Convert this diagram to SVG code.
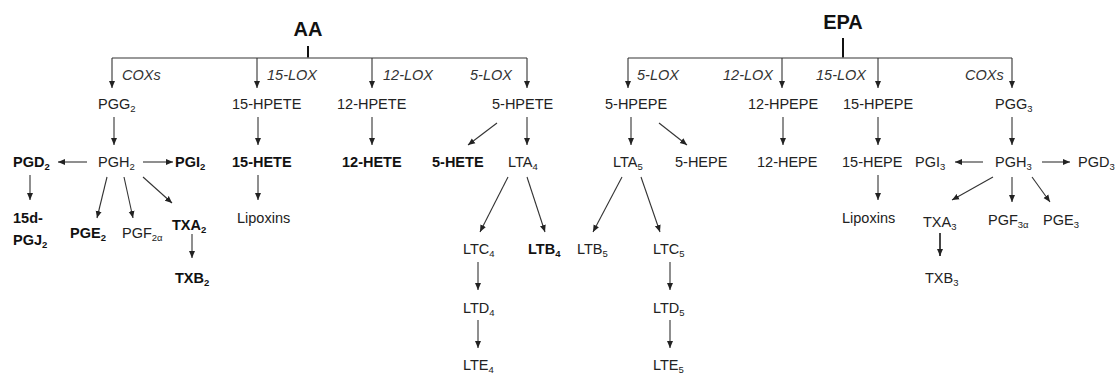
<svg xmlns="http://www.w3.org/2000/svg" width="1117" height="375" viewBox="0 0 1117 375">
<style>
text{font-family:"Liberation Sans",Arial,sans-serif;font-size:14.5px;fill:#222}
.b{font-weight:bold;fill:#111}
.t{font-size:20px;font-weight:bold;fill:#111;text-anchor:middle}
.e{font-style:italic;fill:#333}
.s{font-size:9.5px}
.c line,.c path{stroke:#333;stroke-width:1.1;fill:none;marker-end:url(#ah)}
.c .bar{stroke:#777;stroke-width:1.4;marker-end:none}
.c .stem{stroke:#111;stroke-width:2;marker-end:none}
.c .thick{stroke-width:1.8}
</style>
<defs>
<marker id="ah" markerUnits="userSpaceOnUse" markerWidth="8" markerHeight="7" refX="7" refY="3.5" orient="auto">
<path d="M0,0.5 L7,3.5 L0,6.5 z" fill="#222"/>
</marker>
</defs>
<rect width="1117" height="375" fill="#fff"/>
<g class="c" id="connectors">
<line class="stem" x1="308" y1="46" x2="308" y2="58"/>
<path class="bar" d="M112,58 H527"/>
<line x1="112" y1="58" x2="112" y2="88"/>
<line x1="257" y1="58" x2="257" y2="88"/>
<line x1="372" y1="58" x2="372" y2="88"/>
<line x1="527" y1="58" x2="527" y2="88"/>
<line x1="114" y1="117" x2="114" y2="145"/>
<line x1="258" y1="117" x2="258" y2="145"/>
<line x1="258" y1="175" x2="258" y2="200"/>
<line x1="372" y1="117" x2="372" y2="145"/>
<line x1="527" y1="117" x2="527" y2="145"/>
<line x1="497" y1="123" x2="468" y2="145"/>
<line x1="87" y1="162" x2="58" y2="162"/>
<line x1="143" y1="162" x2="173" y2="162"/>
<line x1="30" y1="175" x2="30" y2="200"/>
<line x1="107" y1="177" x2="97" y2="218"/>
<line x1="124" y1="177" x2="133" y2="218"/>
<line x1="143" y1="177" x2="172" y2="203"/>
<line x1="192" y1="234" x2="192" y2="258"/>
<line x1="508" y1="177" x2="480" y2="232"/>
<line x1="527" y1="177" x2="545" y2="232"/>
<line x1="478" y1="262" x2="478" y2="290"/>
<line x1="478" y1="320" x2="478" y2="348"/>
<line class="stem" x1="843" y1="38" x2="843" y2="58"/>
<path class="bar" d="M628,58 H1012"/>
<line x1="628" y1="58" x2="628" y2="88"/>
<line x1="782" y1="58" x2="782" y2="88"/>
<line x1="878" y1="58" x2="878" y2="88"/>
<line x1="1012" y1="58" x2="1012" y2="88"/>
<line x1="631" y1="117" x2="631" y2="145"/>
<line x1="659" y1="123" x2="687" y2="145"/>
<line x1="783" y1="117" x2="783" y2="145"/>
<line x1="878" y1="117" x2="878" y2="145"/>
<line x1="878" y1="175" x2="878" y2="200"/>
<line x1="1012" y1="117" x2="1012" y2="145"/>
<line x1="622" y1="177" x2="593" y2="232"/>
<line x1="641" y1="177" x2="660" y2="232"/>
<line x1="670" y1="262" x2="670" y2="290"/>
<line x1="670" y1="320" x2="670" y2="348"/>
<line x1="983" y1="162" x2="955" y2="162"/>
<line x1="1042" y1="162" x2="1070" y2="162"/>
<line x1="993" y1="177" x2="952" y2="200"/>
<line x1="1012" y1="177" x2="1012" y2="202"/>
<line x1="1032" y1="177" x2="1050" y2="202"/>
<line class="thick" x1="940" y1="233" x2="940" y2="256"/>
</g>
<g id="n-AA"><text class="t" x="308" y="36">AA</text></g>
<g id="l-aa-cox"><text class="e" x="122" y="80">COXs</text></g>
<g id="l-aa-15lox"><text class="e" x="267" y="80">15-LOX</text></g>
<g id="l-aa-12lox"><text class="e" x="383" y="80">12-LOX</text></g>
<g id="l-aa-5lox"><text class="e" x="470" y="80">5-LOX</text></g>
<g id="n-PGG2"><text x="98" y="109">PGG<tspan class="s" dy="3">2</tspan></text></g>
<g id="n-15HPETE"><text x="232" y="109">15-HPETE</text></g>
<g id="n-12HPETE"><text x="337" y="109">12-HPETE</text></g>
<g id="n-5HPETE"><text x="492" y="109">5-HPETE</text></g>
<g id="n-PGD2"><text class="b" x="13" y="167">PGD<tspan class="s" dy="3">2</tspan></text></g>
<g id="n-PGH2"><text x="98" y="167">PGH<tspan class="s" dy="3">2</tspan></text></g>
<g id="n-PGI2"><text class="b" x="175" y="167">PGI<tspan class="s" dy="3">2</tspan></text></g>
<g id="n-15HETE"><text class="b" x="232" y="167">15-HETE</text></g>
<g id="n-12HETE"><text class="b" x="342" y="167">12-HETE</text></g>
<g id="n-5HETE"><text class="b" x="432" y="167">5-HETE</text></g>
<g id="n-LTA4"><text x="508" y="167">LTA<tspan class="s" dy="3">4</tspan></text></g>
<g id="n-15dPGJ2"><text class="b" x="13" y="223">15d-</text><text class="b" x="13" y="245">PGJ<tspan class="s" dy="3">2</tspan></text></g>
<g id="n-PGE2"><text class="b" x="70" y="238">PGE<tspan class="s" dy="3">2</tspan></text></g>
<g id="n-PGF2a"><text x="122" y="238">PGF<tspan class="s" dy="3">2α</tspan></text></g>
<g id="n-TXA2"><text class="b" x="172" y="230">TXA<tspan class="s" dy="3">2</tspan></text></g>
<g id="n-TXB2"><text class="b" x="175" y="283">TXB<tspan class="s" dy="3">2</tspan></text></g>
<g id="n-Lipoxins-AA"><text x="237" y="223">Lipoxins</text></g>
<g id="n-LTC4"><text x="463" y="254">LTC<tspan class="s" dy="3">4</tspan></text></g>
<g id="n-LTB4"><text class="b" x="528" y="254">LTB<tspan class="s" dy="3">4</tspan></text></g>
<g id="n-LTD4"><text x="463" y="313">LTD<tspan class="s" dy="3">4</tspan></text></g>
<g id="n-LTE4"><text x="463" y="370">LTE<tspan class="s" dy="3">4</tspan></text></g>
<g id="n-EPA"><text class="t" x="843" y="29">EPA</text></g>
<g id="l-epa-5lox"><text class="e" x="637" y="80">5-LOX</text></g>
<g id="l-epa-12lox"><text class="e" x="723" y="80">12-LOX</text></g>
<g id="l-epa-15lox"><text class="e" x="816" y="80">15-LOX</text></g>
<g id="l-epa-cox"><text class="e" x="965" y="80">COXs</text></g>
<g id="n-5HPEPE"><text x="605" y="109">5-HPEPE</text></g>
<g id="n-12HPEPE"><text x="748" y="109">12-HPEPE</text></g>
<g id="n-15HPEPE"><text x="843" y="109">15-HPEPE</text></g>
<g id="n-PGG3"><text x="995" y="109">PGG<tspan class="s" dy="3">3</tspan></text></g>
<g id="n-LTA5"><text x="613" y="167">LTA<tspan class="s" dy="3">5</tspan></text></g>
<g id="n-5HEPE"><text x="675" y="167">5-HEPE</text></g>
<g id="n-12HEPE"><text x="757" y="167">12-HEPE</text></g>
<g id="n-15HEPE"><text x="842" y="167">15-HEPE</text></g>
<g id="n-PGI3"><text x="915" y="167">PGI<tspan class="s" dy="3">3</tspan></text></g>
<g id="n-PGH3"><text x="995" y="167">PGH<tspan class="s" dy="3">3</tspan></text></g>
<g id="n-PGD3"><text x="1078" y="167">PGD<tspan class="s" dy="3">3</tspan></text></g>
<g id="n-Lipoxins-EPA"><text x="842" y="223">Lipoxins</text></g>
<g id="n-TXA3"><text x="923" y="227">TXA<tspan class="s" dy="3">3</tspan></text></g>
<g id="n-PGF3a"><text x="988" y="225">PGF<tspan class="s" dy="3">3α</tspan></text></g>
<g id="n-PGE3"><text x="1043" y="225">PGE<tspan class="s" dy="3">3</tspan></text></g>
<g id="n-TXB3"><text x="925" y="283">TXB<tspan class="s" dy="3">3</tspan></text></g>
<g id="n-LTB5"><text x="577" y="254">LTB<tspan class="s" dy="3">5</tspan></text></g>
<g id="n-LTC5"><text x="653" y="254">LTC<tspan class="s" dy="3">5</tspan></text></g>
<g id="n-LTD5"><text x="653" y="313">LTD<tspan class="s" dy="3">5</tspan></text></g>
<g id="n-LTE5"><text x="653" y="370">LTE<tspan class="s" dy="3">5</tspan></text></g>
</svg>
